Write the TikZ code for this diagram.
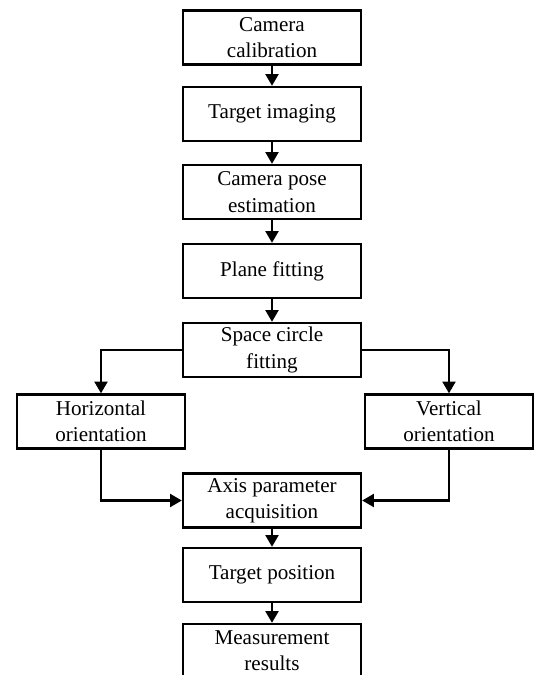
\documentclass[tikz,border=0pt]{standalone}
\usepackage{fontspec}
\setmainfont{Liberation Serif}
\usetikzlibrary{positioning,arrows.meta}

\begin{document}
\begin{tikzpicture}
  % 定义样式
  \tikzset{box/.style = {rectangle, draw, line width=2pt, minimum width=5.34cm, minimum height=1.62cm, align=center, inner sep=2pt, font=\fontsize{18}{22.5}\selectfont}}
  \tikzset{sidebox/.style = {box, minimum width=5.04cm}}
  \tikzset{flow/.style = {draw, line width=2pt, -{Triangle[width=11pt,length=10pt]}}}

  \useasboundingbox (0,0) rectangle (16.02,-20.25);

  % 定义点
  \node[box] (calib) at (8.16,-1.125) {Camera\\calibration};
  \node[box] (imaging) at (8.16,-3.42) {Target imaging};
  \node[box] (pose) at (8.16,-5.76) {Camera pose\\estimation};
  \node[box] (plane) at (8.16,-8.13) {Plane fitting};
  \node[box] (circle) at (8.16,-10.5) {Space circle\\fitting};
  \node[sidebox] (horiz) at (3.03,-12.645) {Horizontal\\orientation};
  \node[sidebox] (vert) at (13.47,-12.645) {Vertical\\orientation};
  \node[box] (axis) at (8.16,-15.015) {Axis parameter\\acquisition};
  \node[box] (position) at (8.16,-17.25) {Target position};
  \node[box] (result) at (8.16,-19.53) {Measurement\\results};

  % 定义边
  \draw[flow] (calib) -- (imaging);
  \draw[flow] (imaging) -- (pose);
  \draw[flow] (pose) -- (plane);
  \draw[flow] (plane) -- (circle);
  \draw[flow] (circle.west) -| (horiz.north);
  \draw[flow] (circle.east) -| (vert.north);
  \draw[flow] (horiz.south) |- (axis.west);
  \draw[flow] (vert.south) |- (axis.east);
  \draw[flow] (axis) -- (position);
  \draw[flow] (position) -- (result);
\end{tikzpicture}
\end{document}
